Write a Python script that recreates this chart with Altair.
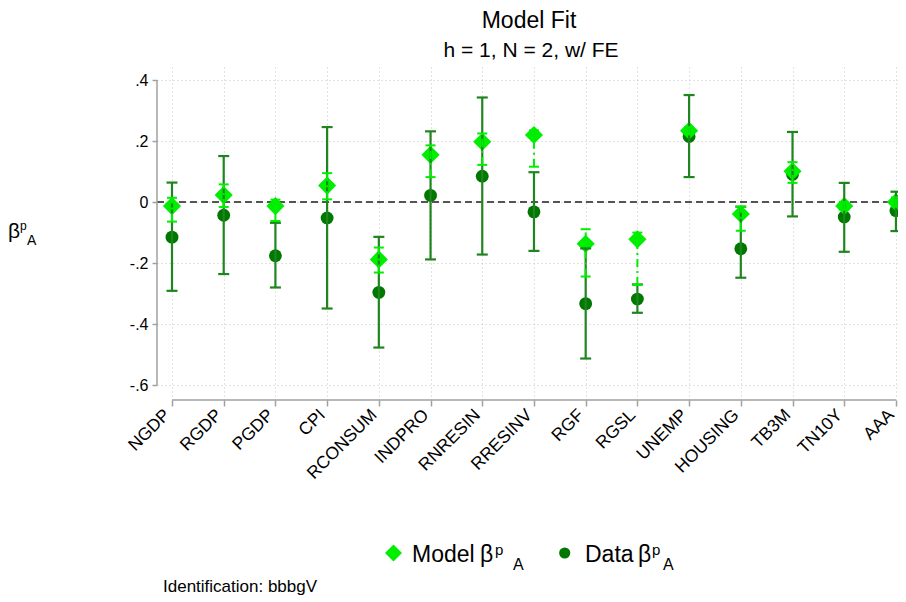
import altair as alt
import pandas as pd

categories = ["NGDP", "RGDP", "PGDP", "CPI", "RCONSUM", "INDPRO", "RNRESIN", "RRESINV",
              "RGF", "RGSL", "UNEMP", "HOUSING", "TB3M", "TN10Y", "AAA"]
model_beta = [-0.013, 0.023, -0.013, 0.054, -0.188, 0.155, 0.198, 0.220,
              -0.137, -0.122, 0.234, -0.039, 0.101, -0.013, 0.000]
model_lo = [-0.064, -0.016, -0.062, 0.009, -0.231, 0.082, 0.122, 0.116,
            -0.244, -0.272, 0.222, -0.094, 0.063, -0.025, -0.015]
model_hi = [0.014, 0.058, 0.008, 0.095, -0.149, 0.186, 0.225, 0.235,
            -0.089, -0.100, 0.246, -0.015, 0.131, 0.000, 0.015]
data_beta = [-0.115, -0.043, -0.176, -0.052, -0.296, 0.022, 0.085, -0.032,
             -0.333, -0.318, 0.215, -0.153, 0.091, -0.049, -0.028]
data_lo = [-0.291, -0.236, -0.280, -0.349, -0.477, -0.188, -0.172, -0.160,
           -0.513, -0.363, 0.082, -0.248, -0.047, -0.163, -0.095]
data_hi = [0.064, 0.151, -0.068, 0.246, -0.114, 0.232, 0.343, 0.098,
           -0.152, -0.270, 0.351, -0.015, 0.230, 0.063, 0.034]
y_ticks = [0.4, 0.2, 0.0, -0.2, -0.4, -0.6]
y_tick_labels = [".4", ".2", "0", "-.2", "-.4", "-.6"]

title_text = "Model Fit"
subtitle_text = "h = 1, N = 2, w/ FE"
note_text = "Identification: bbbgV"

df = pd.DataFrame({
    "idx": list(range(1, len(categories) + 1)),
    "cat": categories,
    "model_beta": model_beta, "model_lo": model_lo, "model_hi": model_hi,
    "data_beta": data_beta, "data_lo": data_lo, "data_hi": data_hi,
})

W, H = 741, 333
FONT = "Liberation Sans"
LIGHT = "#00ee00"
DARK = "#007800"
DARK_CI = "#1f861f"
AXIS_GRAY = "#a0a0a0"

cat_js = "[" + ",".join("'%s'" % c for c in categories) + "]"
tick_keys = "[" + ",".join(str(int(round(v * 10))) for v in y_ticks) + "]"
tick_labs = "[" + ",".join("'%s'" % s for s in y_tick_labels) + "]"

xscale = alt.Scale(domain=[0.71, 15.04], nice=False, zero=False)
yscale = alt.Scale(domain=[-0.649, 0.443], nice=False, zero=False)
xaxis = alt.Axis(values=list(range(1, len(categories) + 1)),
                 labelExpr=cat_js + "[datum.value - 1]",
                 labelAngle=-45, labelAlign="right", labelBaseline="middle",
                 labelFont=FONT, labelFontSize=17.5, labelColor="black",
                 labelPadding=6, labelOffset=-5, tickSize=6, tickColor=AXIS_GRAY, tickWidth=1.5,
                 grid=True, gridDash=[1, 3], gridColor="#c4c4c4", gridWidth=1,
                 domain=False, title=None, labelOverlap=False)
yaxis = alt.Axis(values=y_ticks,
                 labelExpr=tick_labs + "[indexof(" + tick_keys + ", round(datum.value*10))]",
                 labelFont=FONT, labelFontSize=16, labelColor="black",
                 labelPadding=4, tickSize=5, tickColor=AXIS_GRAY, tickWidth=1.5,
                 grid=True, gridDash=[1, 3], gridColor="#c4c4c4", gridWidth=1,
                 domain=False, title=None)


def X(f="idx"):
    return alt.X(f + ":Q", scale=xscale, axis=xaxis)


def Y(f):
    return alt.Y(f + ":Q", scale=yscale, axis=yaxis)


base = alt.Chart(df)

zero_line = base.mark_rule(color="#555555", strokeDash=[7, 4], strokeWidth=1.2).encode(
    y=alt.datum(0), x=alt.value(0), x2=alt.value(W))
y_line = alt.Chart(pd.DataFrame({"a": [y_ticks[0]], "b": [y_ticks[-1]]})).mark_rule(
    color=AXIS_GRAY, strokeWidth=1.5).encode(
    x=alt.value(0), y=alt.Y("a:Q", scale=yscale, axis=yaxis), y2="b:Q")
x_line = alt.Chart(pd.DataFrame({"a": [1], "b": [len(categories)]})).mark_rule(
    color=AXIS_GRAY, strokeWidth=1.5).encode(
    y=alt.value(H), x=alt.X("a:Q", scale=xscale, axis=xaxis), x2="b:Q")

dots = base.mark_point(shape="circle", filled=True, size=165, opacity=1, color=DARK).encode(
    x=X(), y=Y("data_beta"))
diamonds = base.mark_point(shape="diamond", filled=True, size=330, opacity=1, color=LIGHT).encode(
    x=X(), y=Y("model_beta"))
data_ci = base.mark_rule(color=DARK_CI, strokeWidth=2.2).encode(
    x=X(), y=Y("data_lo"), y2="data_hi")
data_cap_lo = base.mark_tick(orient="horizontal", size=11, thickness=2.2, color=DARK_CI, opacity=1).encode(
    x=X(), y=Y("data_lo"))
data_cap_hi = base.mark_tick(orient="horizontal", size=11, thickness=2.2, color=DARK_CI, opacity=1).encode(
    x=X(), y=Y("data_hi"))
model_ci = base.mark_rule(color=LIGHT, strokeWidth=2, strokeDash=[8, 4, 2, 4]).encode(
    x=X(), y=Y("model_lo"), y2="model_hi")
model_cap_lo = base.mark_tick(orient="horizontal", size=10, thickness=2, color=LIGHT, opacity=1).encode(
    x=X(), y=Y("model_lo"))
model_cap_hi = base.mark_tick(orient="horizontal", size=10, thickness=2, color=LIGHT, opacity=1).encode(
    x=X(), y=Y("model_hi"))

one = pd.DataFrame({"a": [0]})


def txt(s, px, py, size, align="left"):
    return alt.Chart(one).mark_text(text=s, font=FONT, fontSize=size, align=align,
                                    baseline="alphabetic", color="black").encode(
        x=alt.value(px), y=alt.value(py))


annotations = [
    txt(title_text, 372, -39, 23, "center"),
    txt(subtitle_text, 374, -10, 21, "center"),
    # y title  beta^p_A
    txt("β", -149, 171, 21), txt("p", -137, 163, 12), txt("A", -130, 178, 14),
    # legend
    txt("Model", 255, 495, 23), txt("β", 323, 495, 23), txt("p", 338, 488, 15), txt("A", 356, 503, 16),
    txt("Data", 428, 495, 23), txt("β", 481, 495, 23), txt("p", 495, 488, 15), txt("A", 506, 503, 16),
    txt(note_text, 6, 525, 17),
]
leg_diamond = alt.Chart(one).mark_point(shape="diamond", filled=True, size=290, opacity=1,
                                        color=LIGHT).encode(x=alt.value(236.5), y=alt.value(486))
leg_circle = alt.Chart(one).mark_point(shape="circle", filled=True, size=125, opacity=1,
                                       color=DARK).encode(x=alt.value(407.7), y=alt.value(486))

chart = alt.layer(
    dots, zero_line, y_line, x_line, diamonds, data_ci, data_cap_lo, data_cap_hi,
    model_ci, model_cap_lo, model_cap_hi, leg_diamond, leg_circle, *annotations
).properties(
    width=W, height=H,
    autosize=alt.AutoSizeParams(type="none"),
    padding={"left": 149, "top": 59, "right": 0, "bottom": 196},
    background="white",
).configure_view(stroke=None)

chart.save("out.html", embed_options={"renderer": "svg", "actions": False})
